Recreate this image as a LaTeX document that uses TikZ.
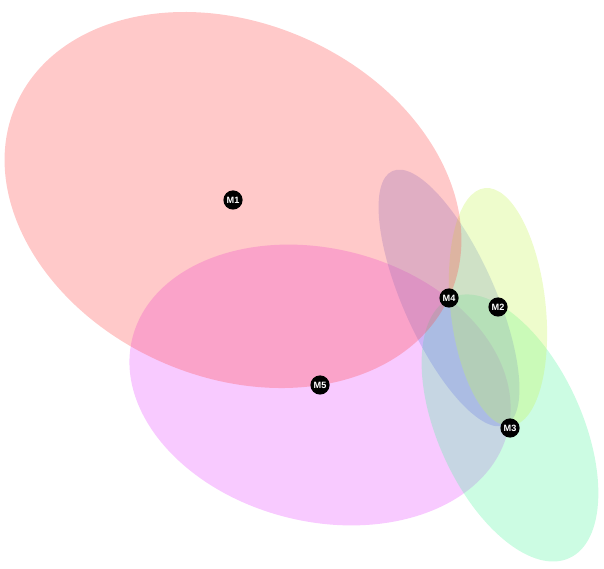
\documentclass[tikz,border=0pt]{standalone}
\usepackage{fontspec}
\setsansfont{Liberation Sans}
\usepackage{tikz}
\usetikzlibrary{positioning, backgrounds}
\definecolor{setred}{RGB}{255, 75, 75}
\definecolor{setyellow}{RGB}{198, 245, 85}
\definecolor{setgreen}{RGB}{85, 245, 162}
\definecolor{setblue}{RGB}{110, 130, 230}
\definecolor{setmagenta}{RGB}{232, 78, 255}

\tikzset{
	blob/.style={fill opacity=0.3, draw=none},
	marker/.style={circle, fill=black, text=white, inner sep=0pt, minimum size=0.48cm,
		font=\sffamily\bfseries\fontsize{6.5}{7}\selectfont}
}

\begin{document}
\begin{tikzpicture}
	\useasboundingbox (0,0) rectangle (15.1,14.2);
	
	\node[marker] (m1) at (5.825,9.2) {M1};
	\node[marker] (m2) at (12.45,6.525) {M2};
	\node[marker] (m3) at (12.75,3.5) {M3};
	\node[marker] (m4) at (11.225,6.75) {M4};
	\node[marker] (m5) at (8.0,4.575) {M5};
	
	\begin{scope}[on background layer]
		\fill[blob, fill=setmagenta, rotate around={-14:(m5)}] (m5) ellipse [x radius=4.835, y radius=3.41];
		\fill[blob, fill=setgreen, rotate around={-65.5:(m3)}] (m3) ellipse [x radius=3.575, y radius=1.8];
		\fill[blob, fill=setblue, rotate around={-66:(m4)}] (m4) ellipse [x radius=3.475, y radius=1.15];
		\fill[blob, fill=setyellow, rotate around={-83.7:(m2)}] (m2) ellipse [x radius=2.99, y radius=1.19];
		\fill[blob, fill=setred, rotate around={-23.7:(m1)}] (m1) ellipse [x radius=5.925, y radius=4.425];
	\end{scope}
\end{tikzpicture}
\end{document}
